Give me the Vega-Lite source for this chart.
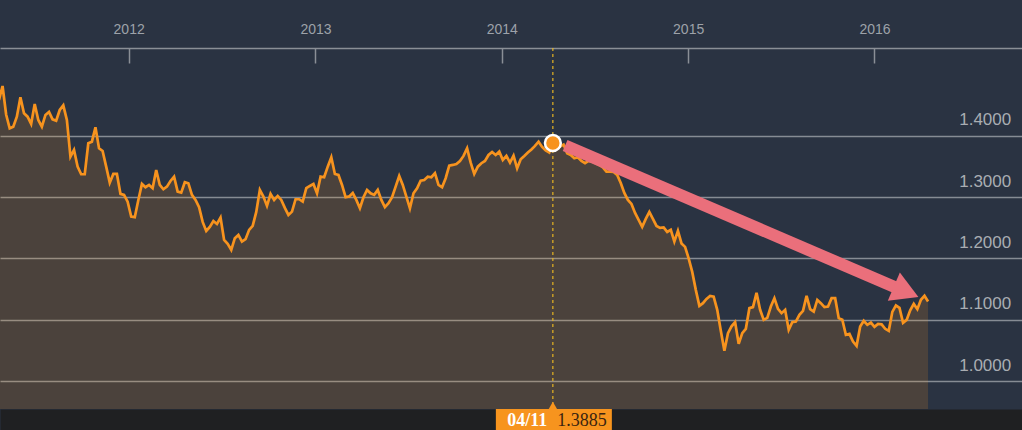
{
  "$schema": "https://vega.github.io/schema/vega-lite/v6.json",
  "width": 1022,
  "height": 361,
  "autosize": {"type": "none"},
  "padding": {"top": 48, "left": 0, "right": 0, "bottom": 21},
  "background": "#2a3342",
  "config": {"view": {"stroke": null}, "font": "Liberation Sans"},
  "datasets": {
    "fx": [
      {"d":"2011-04-22","v":1.4587},{"d":"2011-04-29","v":1.4816},{"d":"2011-05-06","v":1.435},{"d":"2011-05-13","v":1.4126},{"d":"2011-05-20","v":1.4152},{"d":"2011-05-27","v":1.4315},{"d":"2011-06-03","v":1.4631},{"d":"2011-06-10","v":1.437},{"d":"2011-06-17","v":1.4315},{"d":"2011-06-24","v":1.4196},{"d":"2011-07-01","v":1.4522},{"d":"2011-07-08","v":1.4261},{"d":"2011-07-15","v":1.4152},{"d":"2011-07-22","v":1.4343},{"d":"2011-07-29","v":1.4392},{"d":"2011-08-05","v":1.4272},{"d":"2011-08-12","v":1.425},{"d":"2011-08-19","v":1.4424},{"d":"2011-08-26","v":1.45},{"d":"2011-09-02","v":1.4261},{"d":"2011-09-09","v":1.3662},{"d":"2011-09-16","v":1.3772},{"d":"2011-09-23","v":1.35},{"d":"2011-09-30","v":1.3375},{"d":"2011-10-07","v":1.3375},{"d":"2011-10-14","v":1.3881},{"d":"2011-10-21","v":1.3907},{"d":"2011-10-28","v":1.4142},{"d":"2011-11-04","v":1.3799},{"d":"2011-11-11","v":1.3755},{"d":"2011-11-18","v":1.35},{"d":"2011-11-25","v":1.3238},{"d":"2011-12-02","v":1.338},{"d":"2011-12-09","v":1.338},{"d":"2011-12-16","v":1.3054},{"d":"2011-12-23","v":1.3038},{"d":"2011-12-30","v":1.2928},
      {"d":"2012-01-06","v":1.2684},{"d":"2012-01-13","v":1.2674},{"d":"2012-01-20","v":1.2956},{"d":"2012-01-27","v":1.3217},{"d":"2012-02-03","v":1.3163},{"d":"2012-02-10","v":1.3201},{"d":"2012-02-17","v":1.3147},{"d":"2012-02-24","v":1.3445},{"d":"2012-03-02","v":1.32},{"d":"2012-03-09","v":1.313},{"d":"2012-03-16","v":1.3173},{"d":"2012-03-23","v":1.3266},{"d":"2012-03-30","v":1.3336},{"d":"2012-04-06","v":1.3091},{"d":"2012-04-13","v":1.3075},{"d":"2012-04-20","v":1.3245},{"d":"2012-04-27","v":1.3228},{"d":"2012-05-04","v":1.3038},{"d":"2012-05-11","v":1.2956},{"d":"2012-05-18","v":1.2837},{"d":"2012-05-25","v":1.2597},{"d":"2012-06-01","v":1.245},{"d":"2012-06-08","v":1.2516},{"d":"2012-06-15","v":1.2613},{"d":"2012-06-22","v":1.2564},{"d":"2012-06-29","v":1.2667},{"d":"2012-07-06","v":1.2303},{"d":"2012-07-13","v":1.2238},{"d":"2012-07-20","v":1.214},{"d":"2012-07-27","v":1.2331},{"d":"2012-08-03","v":1.2385},{"d":"2012-08-10","v":1.2276},{"d":"2012-08-17","v":1.2315},{"d":"2012-08-24","v":1.2467},{"d":"2012-08-31","v":1.2532},{"d":"2012-09-07","v":1.276},{"d":"2012-09-14","v":1.3119},{"d":"2012-09-21","v":1.301},{"d":"2012-09-28","v":1.2858},{"d":"2012-10-05","v":1.3054},{"d":"2012-10-12","v":1.2956},{"d":"2012-10-19","v":1.3021},{"d":"2012-10-26","v":1.2956},{"d":"2012-11-02","v":1.2826},{"d":"2012-11-09","v":1.2711},{"d":"2012-11-16","v":1.2765},{"d":"2012-11-23","v":1.2967},{"d":"2012-11-30","v":1.2967},{"d":"2012-12-07","v":1.2928},{"d":"2012-12-14","v":1.3147},{"d":"2012-12-21","v":1.3184},{"d":"2012-12-28","v":1.3217},
      {"d":"2013-01-04","v":1.3065},{"d":"2013-01-11","v":1.3336},{"d":"2013-01-18","v":1.3326},{"d":"2013-01-25","v":1.3499},{"d":"2013-02-01","v":1.3653},{"d":"2013-02-08","v":1.338},{"d":"2013-02-15","v":1.3364},{"d":"2013-02-22","v":1.32},{"d":"2013-03-01","v":1.3},{"d":"2013-03-08","v":1.3013},{"d":"2013-03-15","v":1.307},{"d":"2013-03-22","v":1.2956},{"d":"2013-03-29","v":1.282},{"d":"2013-04-05","v":1.3},{"d":"2013-04-12","v":1.3119},{"d":"2013-04-19","v":1.3065},{"d":"2013-04-26","v":1.3038},{"d":"2013-05-03","v":1.3119},{"d":"2013-05-10","v":1.2956},{"d":"2013-05-17","v":1.2837},{"d":"2013-05-24","v":1.2902},{"d":"2013-05-31","v":1.3},{"d":"2013-06-07","v":1.3173},{"d":"2013-06-14","v":1.3347},{"d":"2013-06-21","v":1.32},{"d":"2013-06-28","v":1.301},{"d":"2013-07-05","v":1.282},{"d":"2013-07-12","v":1.3065},{"d":"2013-07-19","v":1.3147},{"d":"2013-07-26","v":1.3271},{"d":"2013-08-02","v":1.3282},{"d":"2013-08-09","v":1.3336},{"d":"2013-08-16","v":1.3326},{"d":"2013-08-23","v":1.3392},{"d":"2013-08-30","v":1.32},{"d":"2013-09-06","v":1.3163},{"d":"2013-09-13","v":1.331},{"d":"2013-09-20","v":1.3516},{"d":"2013-09-27","v":1.3527},{"d":"2013-10-04","v":1.3543},{"d":"2013-10-11","v":1.3592},{"d":"2013-10-18","v":1.3674},{"d":"2013-10-25","v":1.3799},{"d":"2013-11-01","v":1.3564},{"d":"2013-11-08","v":1.338},{"d":"2013-11-15","v":1.3499},{"d":"2013-11-22","v":1.3555},{"d":"2013-11-29","v":1.3592},{"d":"2013-12-06","v":1.369},{"d":"2013-12-13","v":1.3739},{"d":"2013-12-20","v":1.369},{"d":"2013-12-27","v":1.3744},
      {"d":"2014-01-03","v":1.3608},{"d":"2014-01-10","v":1.3674},{"d":"2014-01-17","v":1.3564},{"d":"2014-01-24","v":1.3679},{"d":"2014-01-31","v":1.3473},{"d":"2014-02-07","v":1.362},{"d":"2014-02-14","v":1.3674},{"d":"2014-02-21","v":1.3731},{"d":"2014-02-28","v":1.378},{"d":"2014-03-07","v":1.3837},{"d":"2014-03-14","v":1.3907},{"d":"2014-03-21","v":1.3821},{"d":"2014-03-28","v":1.3763},{"d":"2014-04-04","v":1.3728},{"d":"2014-04-11","v":1.3885},{"d":"2014-04-18","v":1.3813},{"d":"2014-04-25","v":1.383},{"d":"2014-05-02","v":1.386},{"d":"2014-05-09","v":1.3718},{"d":"2014-05-16","v":1.369},{"d":"2014-05-23","v":1.3636},{"d":"2014-05-30","v":1.3653},{"d":"2014-06-06","v":1.3592},{"d":"2014-06-13","v":1.3555},{"d":"2014-06-20","v":1.3592},{"d":"2014-06-27","v":1.3581},{"d":"2014-07-04","v":1.3555},{"d":"2014-07-11","v":1.3527},{"d":"2014-07-18","v":1.3489},{"d":"2014-07-25","v":1.3418},{"d":"2014-08-01","v":1.3418},{"d":"2014-08-08","v":1.3413},{"d":"2014-08-15","v":1.3364},{"d":"2014-08-22","v":1.3233},{"d":"2014-08-29","v":1.307},{"d":"2014-09-05","v":1.2956},{"d":"2014-09-12","v":1.289},{"d":"2014-09-19","v":1.2744},{"d":"2014-09-26","v":1.263},{"d":"2014-10-03","v":1.2516},{"d":"2014-10-10","v":1.2646},{"d":"2014-10-17","v":1.276},{"d":"2014-10-24","v":1.2646},{"d":"2014-10-31","v":1.2532},{"d":"2014-11-07","v":1.25},{"d":"2014-11-14","v":1.2507},{"d":"2014-11-21","v":1.2434},{"d":"2014-11-28","v":1.2467},{"d":"2014-12-05","v":1.2276},{"d":"2014-12-12","v":1.245},{"d":"2014-12-19","v":1.2246},{"d":"2014-12-26","v":1.2189},
      {"d":"2015-01-02","v":1.2002},{"d":"2015-01-09","v":1.1781},{"d":"2015-01-16","v":1.1488},{"d":"2015-01-23","v":1.1227},{"d":"2015-01-30","v":1.1271},{"d":"2015-02-06","v":1.1341},{"d":"2015-02-13","v":1.139},{"d":"2015-02-20","v":1.1378},{"d":"2015-02-27","v":1.1162},{"d":"2015-03-06","v":1.0819},{"d":"2015-03-13","v":1.0493},{"d":"2015-03-20","v":1.0781},{"d":"2015-03-27","v":1.0892},{"d":"2015-04-03","v":1.0961},{"d":"2015-04-10","v":1.0607},{"d":"2015-04-17","v":1.0781},{"d":"2015-04-24","v":1.0852},{"d":"2015-05-01","v":1.1189},{"d":"2015-05-08","v":1.1206},{"d":"2015-05-15","v":1.1439},{"d":"2015-05-22","v":1.1162},{"d":"2015-05-29","v":1.0998},{"d":"2015-06-05","v":1.1031},{"d":"2015-06-12","v":1.1215},{"d":"2015-06-19","v":1.1352},{"d":"2015-06-26","v":1.1178},{"d":"2015-07-03","v":1.1108},{"d":"2015-07-10","v":1.1162},{"d":"2015-07-17","v":1.0835},{"d":"2015-07-24","v":1.0961},{"d":"2015-07-31","v":1.0971},{"d":"2015-08-07","v":1.108},{"d":"2015-08-14","v":1.1145},{"d":"2015-08-21","v":1.139},{"d":"2015-08-28","v":1.1173},{"d":"2015-09-04","v":1.1134},{"d":"2015-09-11","v":1.1325},{"d":"2015-09-18","v":1.1271},{"d":"2015-09-25","v":1.1206},{"d":"2015-10-02","v":1.1215},{"d":"2015-10-09","v":1.1352},{"d":"2015-10-16","v":1.1352},{"d":"2015-10-23","v":1.1026},{"d":"2015-10-30","v":1.1},{"d":"2015-11-06","v":1.0754},{"d":"2015-11-13","v":1.077},{"d":"2015-11-20","v":1.0644},{"d":"2015-11-27","v":1.0574},{"d":"2015-12-04","v":1.0889},{"d":"2015-12-11","v":1.0982},{"d":"2015-12-18","v":1.0917},{"d":"2015-12-25","v":1.0954},
      {"d":"2016-01-01","v":1.0884},{"d":"2016-01-08","v":1.0933},{"d":"2016-01-15","v":1.0925},{"d":"2016-01-22","v":1.0852},{"d":"2016-01-29","v":1.0819},{"d":"2016-02-05","v":1.1129},{"d":"2016-02-12","v":1.1235},{"d":"2016-02-19","v":1.1194},{"d":"2016-02-26","v":1.095},{"d":"2016-03-04","v":1.0998},{"d":"2016-03-11","v":1.1153},{"d":"2016-03-18","v":1.1259},{"d":"2016-03-25","v":1.1173},{"d":"2016-04-01","v":1.1325},{"d":"2016-04-08","v":1.139},{"d":"2016-04-15","v":1.1297}
    ],
    "marker": [{"d":"2014-04-11","v":1.3885,"day":"04/11","val":"1.3885"}],
    "arrow": [{"d":"2014-05-05","v":1.3845},{"d":"2016-02-22","v":1.1490}],
    "head": [{"d":"2016-03-03","v":1.1455}]
  },
  "resolve": {"axis": {"x": "independent", "y": "independent"}},
  "layer": [
    {
      "data": {"name": "fx"},
      "mark": {"type": "area", "color": "#f7931e", "fillOpacity": 0.16, "clip": true},
      "encoding": {
        "x": {"field": "d", "type": "temporal",
          "scale": {"type": "utc", "domain": [{"year": 2011, "month": 4, "date": 24, "utc": true}, {"year": 2016, "month": 10, "date": 16, "utc": true}]},
          "axis": {"orient": "top", "title": null, "tickCount": "year", "format": "%Y", "grid": false,
            "domainColor": "#8a8f96", "domainWidth": 1.5, "tickColor": "#8a8f96", "tickWidth": 1.5, "tickSize": -15,
            "labelPadding": 34, "labelBaseline": "middle", "labelColor": "#9da2a9", "labelFontSize": 14, "labelFont": "Liberation Sans", "labelFlush": false}},
        "y": {"field": "v", "type": "quantitative",
          "scale": {"domain": [0.9543, 1.5436], "nice": false, "zero": false},
          "axis": {"orient": "right", "title": null, "values": [1, 1.1, 1.2, 1.3, 1.4], "format": ".4f",
            "domain": false, "ticks": false, "grid": true, "gridColor": "#c4c8cc", "gridOpacity": 0.6, "gridWidth": 1.5,
            "labelAlign": "right", "labelBaseline": "middle", "labelPadding": -11.3, "labelOffset": -16,
            "labelColor": "#a9adb2", "labelFontSize": 17, "labelFont": "Liberation Sans", "labelFlush": false, "labelBound": false, "labelOverlap": false}}
      }
    },
    {
      "data": {"name": "fx"},
      "mark": {"type": "line", "color": "#f7931e", "strokeWidth": 2.7, "clip": true},
      "encoding": {
        "x": {"field": "d", "type": "temporal",
          "axis": {"orient": "bottom", "title": null, "labels": false, "ticks": false, "grid": false, "domain": true, "domainColor": "#1f2022", "domainWidth": 21, "offset": 10.5}},
        "y": {"field": "v", "type": "quantitative", "axis": null}
      }
    },
    {
      "data": {"name": "marker"},
      "mark": {"type": "rule", "color": "#e6b422", "strokeDash": [3, 3], "strokeWidth": 1.2},
      "encoding": {"x": {"field": "d", "type": "temporal", "axis": null}}
    },
    {
      "data": {"name": "arrow"},
      "mark": {"type": "line", "color": "#ea6f7b", "strokeWidth": 12, "strokeCap": "butt"},
      "encoding": {
        "x": {"field": "d", "type": "temporal", "axis": null},
        "y": {"field": "v", "type": "quantitative", "axis": null}
      }
    },
    {
      "data": {"name": "head"},
      "mark": {"type": "point", "shape": "triangle-right", "size": 950, "angle": 23, "filled": true, "color": "#ea6f7b", "opacity": 1},
      "encoding": {
        "x": {"field": "d", "type": "temporal", "axis": null},
        "y": {"field": "v", "type": "quantitative", "axis": null}
      }
    },
    {
      "data": {"name": "marker"},
      "mark": {"type": "point", "filled": true, "color": "#f7931e", "stroke": "#ffffff", "strokeWidth": 2.5, "size": 250, "opacity": 1},
      "encoding": {
        "x": {"field": "d", "type": "temporal", "axis": null},
        "y": {"field": "v", "type": "quantitative", "axis": null}
      }
    },
    {
      "data": {"name": "marker"},
      "mark": {"type": "point", "shape": "triangle-up", "size": 400, "filled": true, "color": "#f7941e", "opacity": 1, "yOffset": 1.5},
      "encoding": {
        "x": {"field": "d", "type": "temporal", "axis": null},
        "y": {"datum": 0.9543, "type": "quantitative", "axis": null}
      }
    },
    {
      "data": {"name": "marker"},
      "mark": {"type": "rect", "color": "#f7941e", "width": 116, "height": 21, "yOffset": 10.5, "xOffset": 1},
      "encoding": {
        "x": {"field": "d", "type": "temporal", "axis": null},
        "y": {"datum": 0.9543, "type": "quantitative", "axis": null}
      }
    },
    {
      "data": {"name": "marker"},
      "mark": {"type": "text", "align": "right", "baseline": "middle", "dx": -5.5, "yOffset": 11.5, "font": "Liberation Serif", "fontWeight": "bold", "fontSize": 18, "color": "#ffffff"},
      "encoding": {
        "x": {"field": "d", "type": "temporal", "axis": null},
        "y": {"datum": 0.9543, "type": "quantitative", "axis": null},
        "text": {"field": "day"}
      }
    },
    {
      "data": {"name": "marker"},
      "mark": {"type": "text", "align": "left", "baseline": "middle", "dx": 4.5, "yOffset": 11.5, "font": "Liberation Serif", "fontSize": 18, "color": "#3a2410"},
      "encoding": {
        "x": {"field": "d", "type": "temporal", "axis": null},
        "y": {"datum": 0.9543, "type": "quantitative", "axis": null},
        "text": {"field": "val"}
      }
    }
  ]
}
